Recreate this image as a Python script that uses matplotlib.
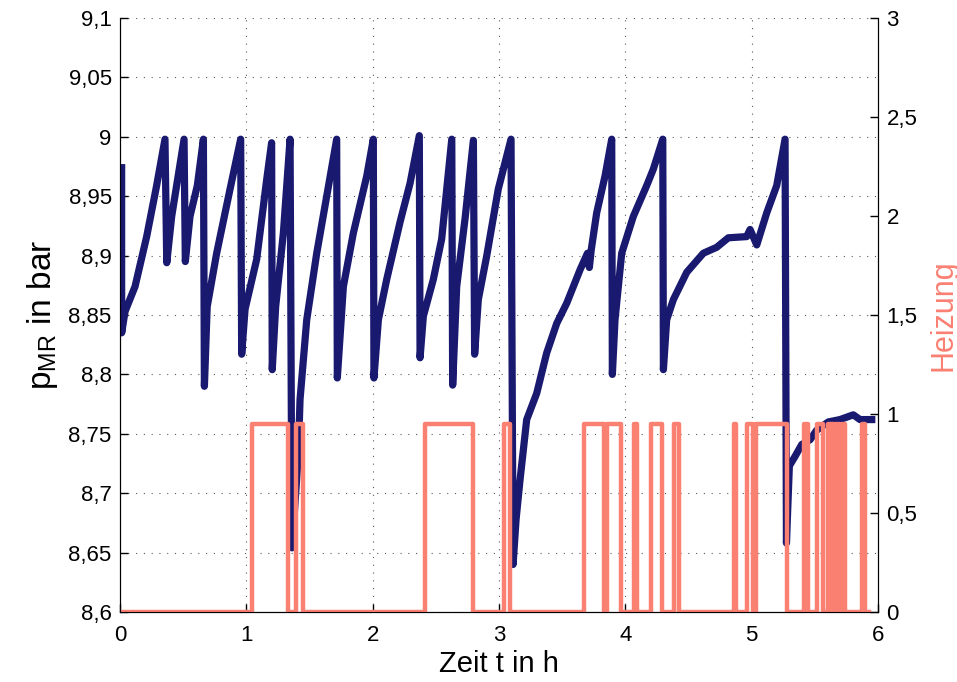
import matplotlib
matplotlib.use("Agg")
import matplotlib.pyplot as plt

plt.rcParams["font.family"] = ["Liberation Sans", "DejaVu Sans"]
plt.rcParams["mathtext.fontset"] = "custom"
plt.rcParams["mathtext.rm"] = "Liberation Sans"

# Druck im Hauptluftbehaelter (Zeit in h, Druck in bar)
t_p = [0.013, 0.013, 0.04, 0.119, 0.211, 0.29, 0.356,
       0.37, 0.409, 0.507,
       0.517, 0.554, 0.612, 0.66,
       0.668, 0.69, 0.765, 0.871, 0.955,
       0.963, 0.99, 1.082, 1.161, 1.2,
       1.205, 1.232, 1.293, 1.346,
       1.361, 1.411, 1.425, 1.478, 1.557, 1.636, 1.715,
       1.72, 1.768, 1.847, 1.953, 2.005,
       2.01, 2.045, 2.111, 2.216, 2.296, 2.369,
       2.375, 2.401, 2.48, 2.546, 2.626,
       2.633, 2.665, 2.731, 2.797,
       2.807, 2.836, 2.903, 2.994, 3.095,
       3.111, 3.135, 3.166, 3.219, 3.298, 3.377, 3.457, 3.536, 3.641,
       3.70, 3.715, 3.73, 3.773, 3.839, 3.892,
       3.897, 3.918, 3.971, 4.063, 4.169, 4.222, 4.296,
       4.301, 4.327, 4.38, 4.486, 4.617, 4.723, 4.815, 4.96, 4.987,
       5.04, 5.119, 5.198, 5.264,
       5.275, 5.298, 5.343, 5.396, 5.462, 5.514, 5.606, 5.699,
       5.804, 5.857, 5.95]
p_mr = [8.974, 8.835, 8.853, 8.874, 8.916, 8.959, 8.998,
        8.894, 8.933, 8.998,
        8.895, 8.933, 8.959, 8.998,
        8.79, 8.857, 8.902, 8.956, 8.998,
        8.817, 8.855, 8.897, 8.964, 8.995,
        8.804, 8.857, 8.919, 8.998,
        8.654, 8.732, 8.779, 8.846, 8.902, 8.95, 8.998,
        8.797, 8.874, 8.919, 8.967, 8.998,
        8.797, 8.846, 8.88, 8.928, 8.961, 9.001,
        8.814, 8.849, 8.88, 8.914, 8.998,
        8.791, 8.874, 8.931, 8.997,
        8.817, 8.863, 8.9, 8.956, 8.998,
        8.64, 8.678, 8.711, 8.762, 8.784, 8.818, 8.843, 8.86, 8.888,
        8.902, 8.89, 8.905, 8.936, 8.967, 8.998,
        8.8, 8.846, 8.902, 8.933, 8.959, 8.973, 8.998,
        8.804, 8.846, 8.863, 8.886, 8.902, 8.907, 8.915, 8.916, 8.922,
        8.909, 8.936, 8.959, 8.998,
        8.658, 8.723, 8.731, 8.741, 8.745, 8.753, 8.76, 8.762,
        8.766, 8.762, 8.762]

# Heizung: Schaltzeitpunkte und Zustand danach
heat_t = [0.0, 1.048, 1.327, 1.392, 1.446, 2.414, 2.792, 3.04, 3.087,
          3.675, 3.834, 3.857, 3.966, 4.071, 4.09, 4.2, 4.287, 4.388, 4.422,
          4.86, 4.876, 4.96, 5.013, 5.034, 5.277, 5.417, 5.443, 5.514, 5.562,
          5.60, 5.612, 5.622, 5.633, 5.645, 5.655, 5.667, 5.678, 5.69, 5.70,
          5.712, 5.722, 5.728, 5.74, 5.871, 5.897, 5.93]
heat_v = [0, 0.95, 0, 0.95, 0, 0.95, 0, 0.95, 0,
          0.95, 0, 0.95, 0, 0.95, 0, 0.95, 0, 0.95, 0,
          0.95, 0, 0.95, 0, 0.95, 0, 0.95, 0, 0.95, 0,
          0.95, 0, 0.95, 0, 0.95, 0, 0.95, 0, 0.95, 0,
          0.95, 0, 0.95, 0, 0.95, 0, 0]

x_ticks = [0, 1, 2, 3, 4, 5, 6]
y1_ticks = [8.6, 8.65, 8.7, 8.75, 8.8, 8.85, 8.9, 8.95, 9.0, 9.05, 9.1]
y1_labels = ["8,6", "8,65", "8,7", "8,75", "8,8", "8,85", "8,9", "8,95", "9", "9,05", "9,1"]
y2_ticks = [0, 0.5, 1, 1.5, 2, 2.5, 3]
y2_labels = ["0", "0,5", "1", "1,5", "2", "2,5", "3"]

navy = "#191970"
salmon = "#FA8072"

fig = plt.figure(figsize=(9.57, 6.82), dpi=100)
ax1 = fig.add_axes([0.1254, 0.1026, 0.7921, 0.8710])
ax2 = ax1.twinx()

ax1.plot(t_p, p_mr, color=navy, linewidth=5.2, solid_joinstyle="round")
ax2.step(heat_t, heat_v, where="post", color=salmon, linewidth=3.2)

ax1.set_xlim(0, 6)
ax1.set_ylim(8.6, 9.1)
ax2.set_ylim(0, 3)

ax1.set_xticks(x_ticks)
ax1.set_xticklabels([str(v) for v in x_ticks])
ax1.set_yticks(y1_ticks)
ax1.set_yticklabels(y1_labels)
ax2.set_yticks(y2_ticks)
ax2.set_yticklabels(y2_labels)

for ax in (ax1, ax2):
    ax.spines["top"].set_visible(False)
    ax.tick_params(direction="in", length=6, width=1, labelsize=16, pad=6)
ax1.tick_params(axis="x", pad=9)

ax1.grid(True, color="0.35", linestyle=(0, (1, 6)), linewidth=0.8)

ax1.set_xlabel("Zeit t in h", fontsize=21, labelpad=3)
ax1.set_ylabel(r"p$_{\mathregular{MR}}$ in bar", fontsize=24, labelpad=6)
ax2.set_ylabel("Heizung", fontsize=22, color=salmon, labelpad=8)

fig.savefig("out.png", dpi=100)
